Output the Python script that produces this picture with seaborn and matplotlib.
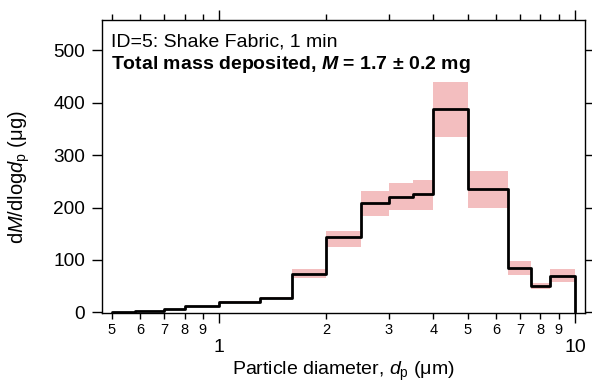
import numpy as np
import matplotlib
matplotlib.use("Agg")
import matplotlib.pyplot as plt
import seaborn as sns
from matplotlib.ticker import FixedLocator, FixedFormatter

# ---- data ----
bin_edges = [0.5, 0.58, 0.7, 0.8, 1.0, 1.3, 1.6, 2.0, 2.5, 3.0, 3.5, 4.0, 5.0, 6.5, 7.5, 8.5, 10.0]
dm_dlogdp = [1, 3, 7, 11, 20, 27, 73, 143, 208, 220, 226, 388, 235, 85, 50, 69]
band_upper = [1, 3, 7, 11, 21, 29, 83, 155, 232, 247, 252, 440, 269, 98, 55, 82]
band_lower = [1, 3, 7, 11, 19, 25, 66, 125, 184, 195, 196, 334, 199, 71, 44, 57]
minor_ticks = [0.5, 0.6, 0.7, 0.8, 0.9, 2, 3, 4, 5, 6, 7, 8, 9]
minor_labels = ["5", "6", "7", "8", "9", "2", "3", "4", "5", "6", "7", "8", "9"]
major_ticks = [1, 10]
major_labels = ["1", "10"]
y_ticks = [0, 100, 200, 300, 400, 500]
title_line1 = "ID=5: Shake Fabric, 1 min"
title_line2 = r"Total mass deposited, $\mathbfit{M}$ = 1.7 ± 0.2 mg"

sns.set_theme(style="ticks")
plt.rcParams["font.family"] = ["Liberation Sans", "DejaVu Sans"]
plt.rcParams["mathtext.fontset"] = "custom"
plt.rcParams["mathtext.rm"] = "Liberation Sans"
plt.rcParams["mathtext.it"] = "Liberation Sans:italic"
plt.rcParams["mathtext.bf"] = "Liberation Sans:bold"
try:
    plt.rcParams["mathtext.bfit"] = "Liberation Sans:bold:italic"
except KeyError:
    pass

fig = plt.figure(figsize=(5.92, 3.86), dpi=100)
ax = fig.add_axes([102/592, 1 - 313.3/386, (585-102)/592, (313.3-20)/386])

# uncertainty band
up_ext = band_upper + [band_upper[-1]]
lo_ext = band_lower + [band_lower[-1]]
ax.fill_between(bin_edges, lo_ext, up_ext, step="post", color="#F3BEBF", lw=0, zorder=1)

# step line (from data)
xs, ys = [], []
for i, v in enumerate(dm_dlogdp):
    xs += [bin_edges[i], bin_edges[i+1]]
    ys += [v, v]
xs.append(bin_edges[-1]); ys.append(0)
sns.lineplot(x=xs, y=ys, estimator=None, sort=False, color="black", lw=2.0, ax=ax, zorder=3)

ax.set_xscale("log")
ax.set_xlim(0.469, 10.67)
ax.set_ylim(-2, 558)

ax.xaxis.set_major_locator(FixedLocator(major_ticks))
ax.xaxis.set_major_formatter(FixedFormatter(major_labels))
ax.xaxis.set_minor_locator(FixedLocator(minor_ticks))
ax.xaxis.set_minor_formatter(FixedFormatter(minor_labels))
ax.set_yticks(y_ticks)

for s in ax.spines.values():
    s.set_linewidth(1.0)
    s.set_color("black")

ax.tick_params(axis="x", which="major", direction="out", length=7.5, width=1.0,
               labelsize=14, pad=11, top=True, bottom=True, colors="black")
ax.tick_params(axis="x", which="minor", direction="out", length=4, width=1.0,
               labelsize=10.5, pad=3, top=True, bottom=True, colors="black")
ax.tick_params(axis="y", which="major", direction="out", length=7, width=1.0,
               labelsize=13.7, pad=5, left=True, right=True, colors="black")
ax.tick_params(axis="y", which="minor", left=False, right=False)

ax.set_xlabel(r"Particle diameter, $d_\mathrm{p}$ ($\mathrm{\mu}$m)", fontsize=14, color="black")
ax.xaxis.set_label_coords(0.5, -0.158)
ax.set_ylabel(r"d$M$/dlog$d_\mathrm{p}$ ($\mathrm{\mu}$g)", fontsize=14.5, color="black")
ax.yaxis.set_label_coords(-0.145, 0.463)

ax.text(0.018, 0.909, title_line1, transform=ax.transAxes, fontsize=14, ha="left",
        va="baseline", color="black")
ax.text(0.018, 0.833, title_line2, transform=ax.transAxes, fontsize=14, ha="left",
        va="baseline", fontweight="bold", color="black")

fig.savefig("out.png", dpi=100)
